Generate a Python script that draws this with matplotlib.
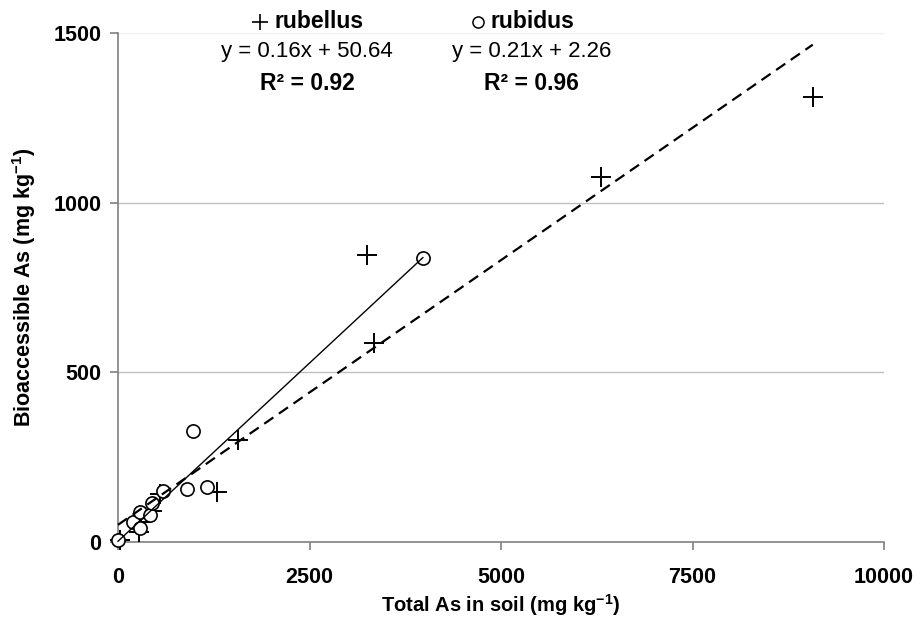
import matplotlib
matplotlib.use("Agg")
import matplotlib.pyplot as plt
from matplotlib.lines import Line2D
import numpy as np

plt.rcParams['font.family'] = ['Liberation Sans', 'DejaVu Sans']
plt.rcParams['mathtext.fontset'] = 'custom'
plt.rcParams['mathtext.rm'] = 'Liberation Sans'
plt.rcParams['mathtext.bf'] = 'Liberation Sans:bold'
plt.rcParams['mathtext.default'] = 'bf'

# ---- data ----
rubellus_x = [9070, 6300, 3250, 3340, 1570, 1290, 25, 280, 300, 450, 550]
rubellus_y = [1310, 1075, 845, 585, 300, 148, 6, 30, 60, 90, 140]
rubidus_x = [0, 195, 290, 290, 420, 445, 590, 900, 1160, 980, 3980]
rubidus_y = [6, 59, 41, 88, 80, 115, 150, 156, 162, 327, 838]

rubellus_fit = (0.156, 50.64)   # slope, intercept as drawn
rubidus_fit = (0.2100, 2.26)

x_ticks = [0, 2500, 5000, 7500, 10000]
y_ticks = [0, 500, 1000, 1500]

fig = plt.figure(figsize=(9.22, 6.35), dpi=100)
ax = fig.add_axes([118/922, 1-542/635, (884-118)/922, (542-33)/635])

ax.set_xlim(0, 10000)
ax.set_ylim(0, 1500)

# gridlines
for yv in y_ticks[1:]:
    col = '#f0f0f0' if yv == 1500 else '#c0c0c0'
    ax.axhline(yv, color=col, lw=1.0, zorder=0)

ax.plot(rubellus_x, rubellus_y, linestyle='none', marker='+', markersize=14,
        markeredgewidth=1.4, color='black', clip_on=False, zorder=3)
ax.plot(rubidus_x, rubidus_y, linestyle='none', marker='o', markersize=9.5,
        markeredgewidth=1.2, markerfacecolor='white', markeredgecolor='black',
        clip_on=False, zorder=4)

# trend lines
xr = np.array([0, max(rubellus_x)])
ax.plot(xr, rubellus_fit[0]*xr + rubellus_fit[1], color='black', lw=1.6,
        dashes=(5, 3), zorder=5, clip_on=False)
xd = np.array([0, max(rubidus_x)])
ax.plot(xd, rubidus_fit[0]*xd + rubidus_fit[1], color='black', lw=1.0,
        zorder=5, clip_on=False)

for s in ['top', 'right']:
    ax.spines[s].set_visible(False)
for s in ['left', 'bottom']:
    ax.spines[s].set_color('#808080')
    ax.spines[s].set_linewidth(1.2)
    ax.spines[s].set_zorder(2)

ax.set_xticks(x_ticks)
ax.set_yticks(y_ticks)
ax.set_xticklabels([str(v) for v in x_ticks], fontweight='bold', fontsize=15.5)
ax.set_yticklabels([str(v) for v in y_ticks], fontweight='bold', fontsize=15.5)
ax.tick_params(axis='both', direction='out', length=6, width=1.2, color='#808080')
ax.tick_params(axis='x', pad=12)
ax.tick_params(axis='y', pad=6)

ax.set_xlabel(r'Total As in soil (mg kg$^{-1}$)', fontweight='bold', fontsize=14.5, labelpad=3)
ax.set_ylabel(r'Bioaccessible As (mg kg$^{-1}$)', fontweight='bold', fontsize=15.5, labelpad=11)

# legend-like annotation
def fy(py):
    return 1 - py/635
def fx(px):
    return px/922

fig.add_artist(Line2D([fx(260)], [fy(22)], marker='+', markersize=11,
                      markeredgewidth=1.2, color='black', linestyle='none'))
fig.text(fx(275), fy(21), 'rubellus', ha='left', va='center', fontsize=16.5, fontweight='bold')
fig.text(fx(307), fy(52), 'y = 0.16x + 50.64', ha='center', va='center', fontsize=16)
fig.text(fx(307), fy(84), 'R² = 0.92', ha='center', va='center', fontsize=16.5, fontweight='bold')

fig.add_artist(Line2D([fx(478)], [fy(22)], marker='o', markersize=8,
                      markeredgewidth=1.1, markerfacecolor='white', markeredgecolor='black',
                      linestyle='none'))
fig.text(fx(490), fy(21), 'rubidus', ha='left', va='center', fontsize=16.5, fontweight='bold')
fig.text(fx(532), fy(52), 'y = 0.21x + 2.26', ha='center', va='center', fontsize=16)
fig.text(fx(531), fy(84), 'R² = 0.96', ha='center', va='center', fontsize=16.5, fontweight='bold')

fig.savefig('out.png', dpi=100, facecolor='white')
